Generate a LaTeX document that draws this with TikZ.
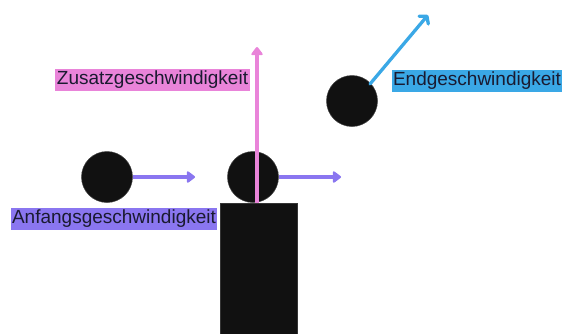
\documentclass[tikz,border=0pt]{standalone}
\usepackage{fontspec}
\setmainfont{Liberation Sans}
\usetikzlibrary{arrows.meta}
\definecolor{ballc}{HTML}{111111}
\definecolor{purp}{HTML}{8A76F0}
\definecolor{pinkc}{HTML}{E984D9}
\definecolor{bluec}{HTML}{3AA8E6}
\definecolor{txtc}{HTML}{1A1A30}
\tikzset{
  ball/.style={circle,fill=ballc,draw=ballc!80!white,line width=0.5pt,minimum size=51pt,inner sep=0pt},
  vec/.style={line width=3.3pt,-{Triangle[length=9pt,width=13pt,round]}},
  barbvec/.style={line width=3.3pt,line cap=round,-{Straight Barb[length=5pt,width=12pt,round]}},
  lab/.style={inner xsep=1.5pt,inner ysep=0pt,minimum height=22pt,text=txtc,font=\fontsize{19pt}{20pt}\selectfont}
}
\begin{document}
\begin{tikzpicture}[x=1pt,y=-1pt]
\useasboundingbox (0,0) rectangle (562,333);
% tower
\node[fill=ballc,draw=ballc!85!white,line width=0.5pt,minimum width=77pt,minimum height=131pt,inner sep=0pt,anchor=north west] (tower) at (219.5,203) {};
% balls
\node[ball] (b1) at (107,177) {};
\node[ball] (b2) at (253,177) {};
\node[ball] (b3) at (352,101) {};
% arrow ends
\coordinate (e1) at (195,177);
\coordinate (e2) at (341,177);
\coordinate (ps) at (257,203);
\coordinate (pe) at (257,47);
\coordinate (bs) at (370,84);
\coordinate (be) at (428,15);
\draw[vec,purp] (b1.east) -- (e1);
\draw[vec,purp] (b2.east) -- (e2);
\draw[vec,pinkc] (ps) -- (pe);
\draw[barbvec,bluec] (bs) -- (be);
% labels
\node[lab,fill=purp] (l1) at (114,219) {Anfangsgeschwindigkeit};
\node[lab,fill=pinkc] (l2) at (152.5,80) {Zusatzgeschwindigkeit};
\node[lab,fill=bluec] (l3) at (477,80.5) {Endgeschwindigkeit};
\end{tikzpicture}
\end{document}
